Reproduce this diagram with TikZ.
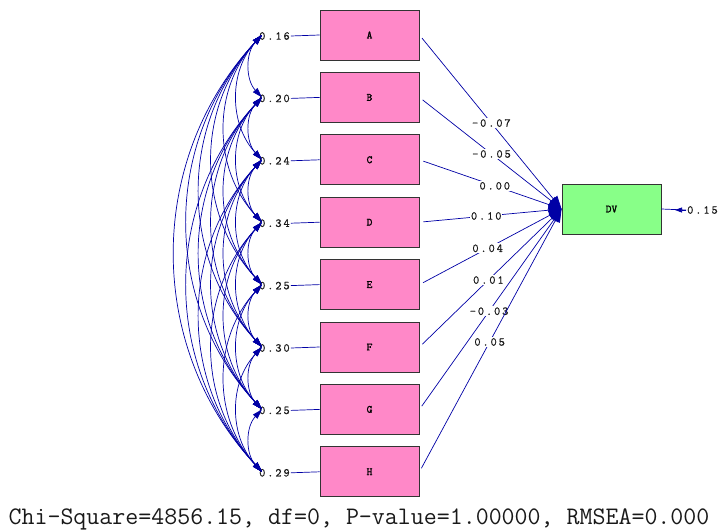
\documentclass[tikz,border=0pt]{standalone}
\usepackage{fontspec}
\newfontfamily\lab[LetterSpace=16,FakeBold=0.6]{Latin Modern Mono}
\newfontfamily\boxfont[FakeBold=1.5]{Latin Modern Mono}
\newfontfamily\mono{Latin Modern Mono}
\usetikzlibrary{arrows.meta}
\definecolor{navy}{RGB}{0,0,165}
\definecolor{pinkbox}{RGB}{255,136,200}
\definecolor{greenbox}{RGB}{136,255,136}
\tikzset{
  obs/.style={draw=black!80, line width=0.9pt, fill=pinkbox, minimum width=99pt, minimum height=50pt, inner sep=0pt, font=\boxfont\fontsize{11}{11}\selectfont},
  dvbox/.style={draw=black!80, line width=0.9pt, fill=greenbox, minimum width=99pt, minimum height=50pt, inner sep=0pt, font=\boxfont\fontsize{11}{11}\selectfont},
  lbl/.style={font=\lab\fontsize{12}{12}\selectfont, inner sep=1pt, text=black!90},
  reg/.style={navy, line width=0.7pt},
  cov/.style={navy, line width=0.7pt, {Triangle[length=10pt,width=6pt]}-{Triangle[length=10pt,width=6pt]}, bend right=43},
}
\begin{document}
\begin{tikzpicture}[x=1pt,y=-1pt]
\useasboundingbox (0,0) rectangle (722,532);
\foreach \n/\v [count=\i from 0] in {A/0.16,B/0.20,C/0.24,D/0.34,E/0.25,F/0.30,G/0.25,H/0.29} {
  \node[obs] (\n) at (369.5, 35+62.4*\i) {\n};
  \node[lbl, anchor=west] (e\n) at (258, 36+62.4*\i) {\v};
  \coordinate (c\i) at (262, 35+62.4*\i);
  \draw[reg] (e\n.east) -- (\n.west);
}
\foreach \i in {0,...,6} {
  \pgfmathtruncatemacro\s{\i+1}
  \foreach \j in {\s,...,7} {
    \draw[cov] (c\i) to (c\j);
  }
}
\node[dvbox] (DV) at (611.5,209) {DV};
\foreach \n/\w/\p in {A/-0.07/0.506,B/-0.05/0.507,C/0.00/0.53,D/0.10/0.47,E/0.04/0.48,F/0.01/0.485,G/-0.03/0.49,H/0.05/0.494} {
  \draw[reg, shorten <=4pt, -{Triangle[length=13pt,width=10pt]}] (\n.east) -- node[lbl, fill=white, pos=\p] {\w} (DV.west);
}
\node[lbl, anchor=west] (eDV) at (686,210) {0.15};
\draw[reg] (eDV.west) -- (DV.east);
\draw[reg, -{Triangle[length=7pt,width=5pt]}] (eDV.west) -- ++(-11,0);
\node[font=\mono\fontsize{25.2}{25}\selectfont, text=black!90, inner sep=0pt] (fit) at (359,519) {Chi-Square=4856.15, df=0, P-value=1.00000, RMSEA=0.000};
\end{tikzpicture}
\end{document}
